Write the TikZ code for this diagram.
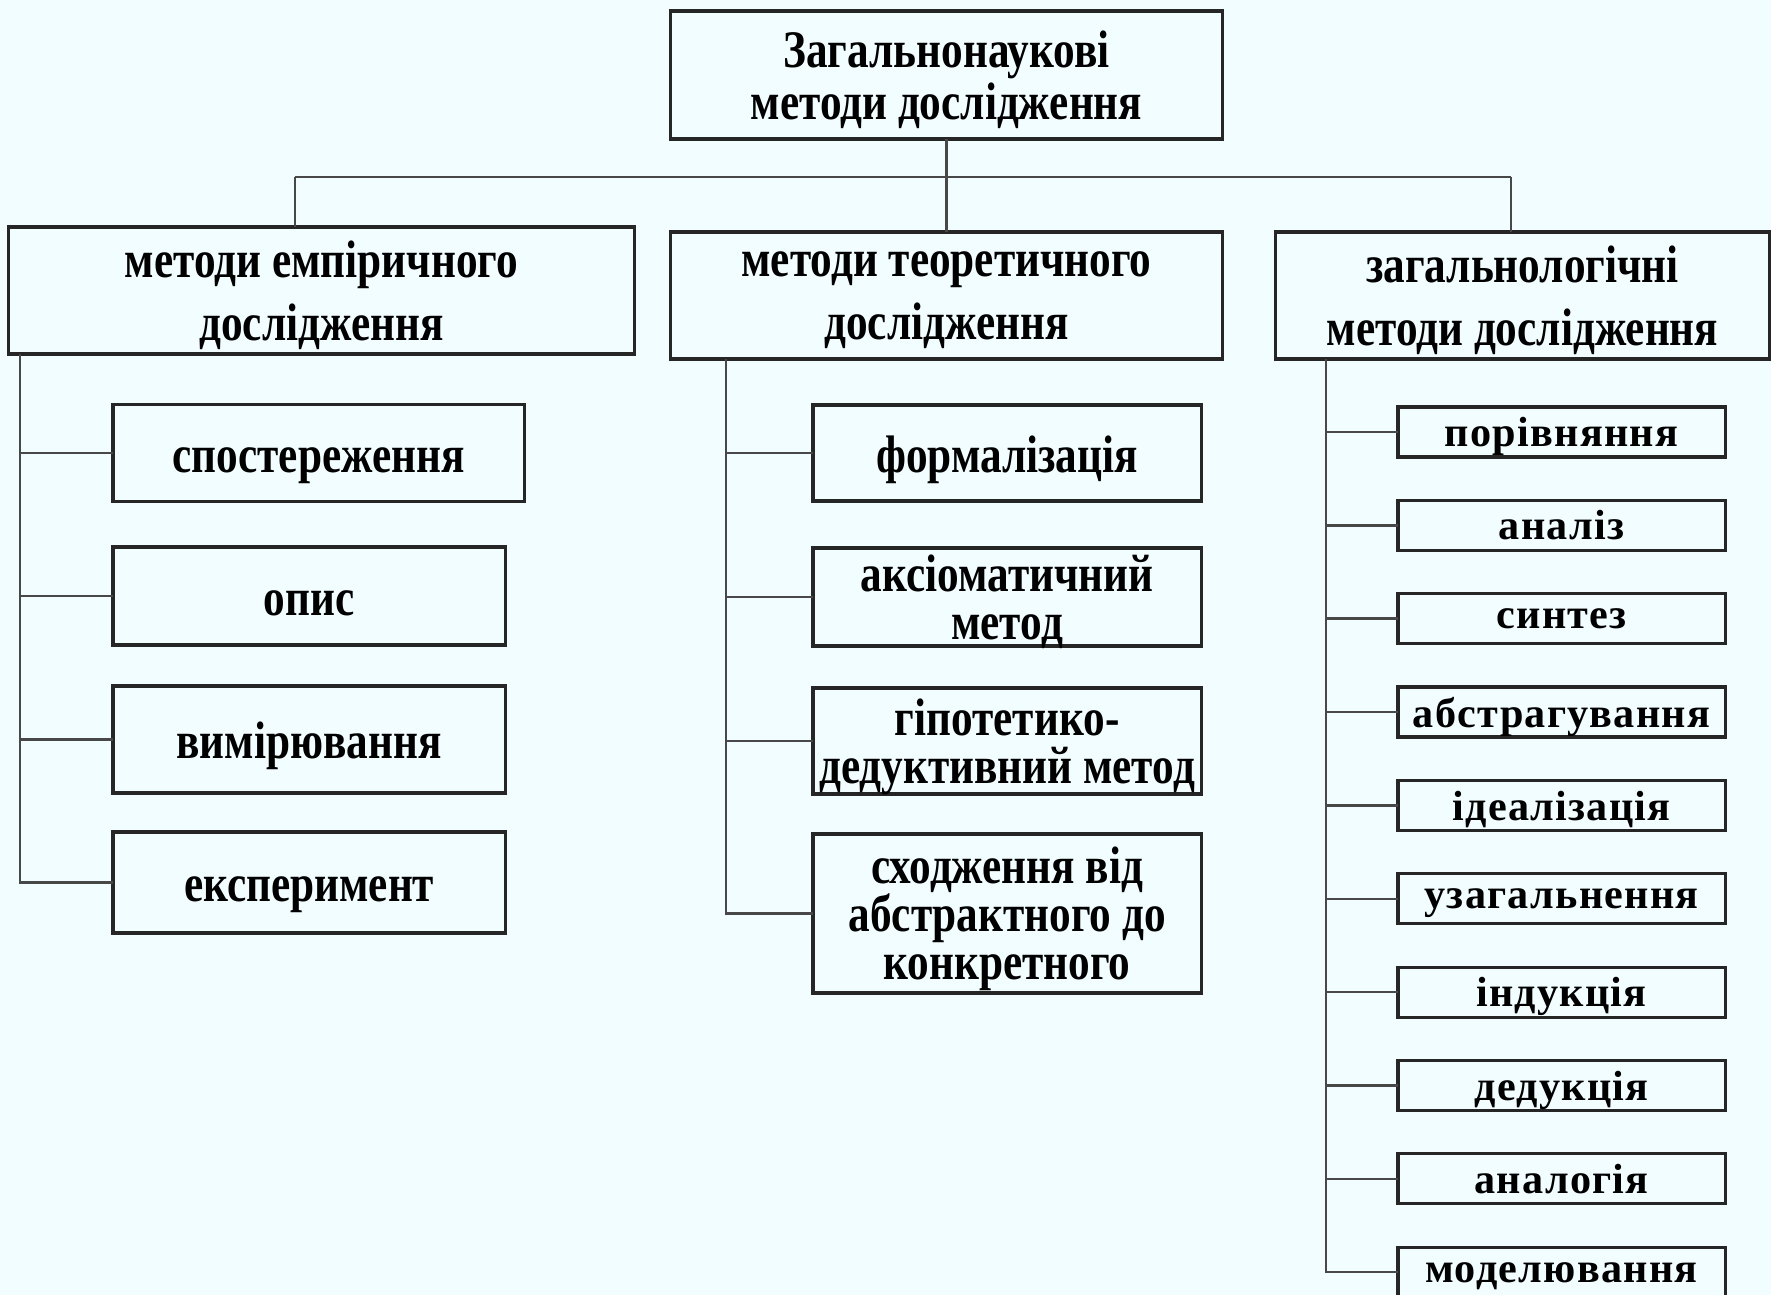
\documentclass[tikz,border=0pt]{standalone}
\usepackage{fontspec}
\setmainfont{Liberation Serif}
\newfontfamily\tallserif[FakeStretch=0.82]{Liberation Serif}
\newfontfamily\wideserif[LetterSpace=3]{Liberation Serif}
\usetikzlibrary{positioning}
\definecolor{colBg}{RGB}{242,253,255}
\definecolor{colBox}{RGB}{38,38,38}
\definecolor{colLine}{RGB}{72,72,72}
\tikzset{
  % shared base
  box/.style={
    rectangle, draw=colBox, line width=0.9pt,
    inner sep=0pt, outer sep=0pt, align=center, text depth=0pt,
  },
  % per-level shortcuts
  rootBox/.style ={box, font=\tallserif\bfseries\fontsize{15}{14.8}\selectfont},
  groupBox/.style={box, minimum height=1.27cm,
                   font=\tallserif\bfseries\fontsize{15}{17.9}\selectfont},
  leftLeaf/.style={box, anchor=west, minimum width=3.92cm, text height=11pt,
                   font=\tallserif\bfseries\fontsize{15}{13.5}\selectfont},
  midLeaf/.style ={box, anchor=west, minimum width=3.88cm,
                   font=\tallserif\bfseries\fontsize{15}{13.6}\selectfont},
  rightLeaf/.style={box, minimum width=3.27cm, minimum height=0.5cm,
                   font=\wideserif\bfseries\fontsize{12}{13}\selectfont},
  % lines
  link/.style={draw=colLine, line width=0.7pt},
}

\begin{document}
\begin{tikzpicture}[x=0.01cm, y=-0.01cm]

\fill[colBg] (0,0) rectangle (1771,1295);
\useasboundingbox (0,0) rectangle (1771,1295);

% ===================================================================
%  ROOT
% ===================================================================
\node[rootBox, minimum width=5.51cm, minimum height=1.28cm] (root) at (946.5,75)
  {Загальнонаукові\\методи дослідження};

% ===================================================================
%  GROUPS
% ===================================================================
\node[groupBox, minimum width=6.25cm] (emp) at (321.5,290.5)
  {методи емпіричного\\дослідження};
\node[groupBox, minimum width=5.51cm] (theor) at (946.5,295.5)
  {методи теоретичного\\дослідження};
\node[groupBox, minimum width=4.93cm] (logic) at (1522.5,295.5)
  {загальнологічні\\методи дослідження};

% ===================================================================
%  EMPIRICAL METHODS
% ===================================================================
\node[leftLeaf, minimum width=4.11cm, minimum height=0.97cm] (observ) at (113,453) {спостереження};
\node[leftLeaf, minimum height=0.98cm] (descr) at (113,596) {опис};
\node[leftLeaf, minimum height=1.07cm] (measur) at (113,739.5) {вимірювання};
\node[leftLeaf, minimum height=1.01cm] (exper) at (113,882.5) {експеримент};

% ===================================================================
%  THEORETICAL METHODS
% ===================================================================
\node[midLeaf, minimum height=0.96cm, text height=11pt] (formal) at (813,453) {формалізація};
\node[midLeaf, minimum height=0.98cm] (axiom) at (813,597)
  {аксіоматичний\\метод};
\node[midLeaf, minimum height=1.06cm] (hypo) at (813,741)
  {гіпотетико-\\дедуктивний метод};
\node[midLeaf, minimum height=1.59cm] (ascent) at (813,913.5)
  {сходження від\\абстрактного до\\конкретного};

% ===================================================================
%  GENERAL LOGICAL METHODS
% ===================================================================
\node[rightLeaf, anchor=west] (compar) at (1398,432) {порівняння};
\node[rightLeaf, below=0.433cm of compar] (analys) {аналіз};
\node[rightLeaf, below=0.433cm of analys] (synth) {синтез};
\node[rightLeaf, below=0.433cm of synth] (abstr) {абстрагування};
\node[rightLeaf, below=0.433cm of abstr] (ideal) {ідеалізація};
\node[rightLeaf, below=0.433cm of ideal] (generl) {узагальнення};
\node[rightLeaf, below=0.433cm of generl] (induct) {індукція};
\node[rightLeaf, below=0.433cm of induct] (deduct) {дедукція};
\node[rightLeaf, below=0.433cm of deduct] (analog) {аналогія};
\node[rightLeaf, below=0.433cm of analog] (model) {моделювання};

% ===================================================================
%  TREE LINES
% ===================================================================
\coordinate (busL) at (295,177);
\coordinate (busR) at (1511,177);
\draw[link] (root.south) -- (theor.north);
\draw[link] (busL) -- (busR);
\draw[link] (busL) -- (busL |- emp.north);
\draw[link] (busR) -- (busR |- logic.north);

% -- left spine
\coordinate (spineL) at (20,0);
\draw[link] (spineL |- emp.south) |- (exper.west);
\draw[link] (spineL |- observ.west) -- (observ.west);
\draw[link] (spineL |- descr.west)  -- (descr.west);
\draw[link] (spineL |- measur.west) -- (measur.west);

% -- middle spine
\coordinate (spineM) at (726,0);
\draw[link] (spineM |- theor.south) |- (ascent.west);
\draw[link] (spineM |- formal.west) -- (formal.west);
\draw[link] (spineM |- axiom.west)  -- (axiom.west);
\draw[link] (spineM |- hypo.west)   -- (hypo.west);

% -- right spine
\coordinate (spineR) at (1326,0);
\draw[link] (spineR |- logic.south) |- (model.west);
\draw[link] (spineR |- compar.west) -- (compar.west);
\draw[link] (spineR |- analys.west) -- (analys.west);
\draw[link] (spineR |- synth.west)  -- (synth.west);
\draw[link] (spineR |- abstr.west)  -- (abstr.west);
\draw[link] (spineR |- ideal.west)  -- (ideal.west);
\draw[link] (spineR |- generl.west) -- (generl.west);
\draw[link] (spineR |- induct.west) -- (induct.west);
\draw[link] (spineR |- deduct.west) -- (deduct.west);
\draw[link] (spineR |- analog.west) -- (analog.west);

\end{tikzpicture}
\end{document}
